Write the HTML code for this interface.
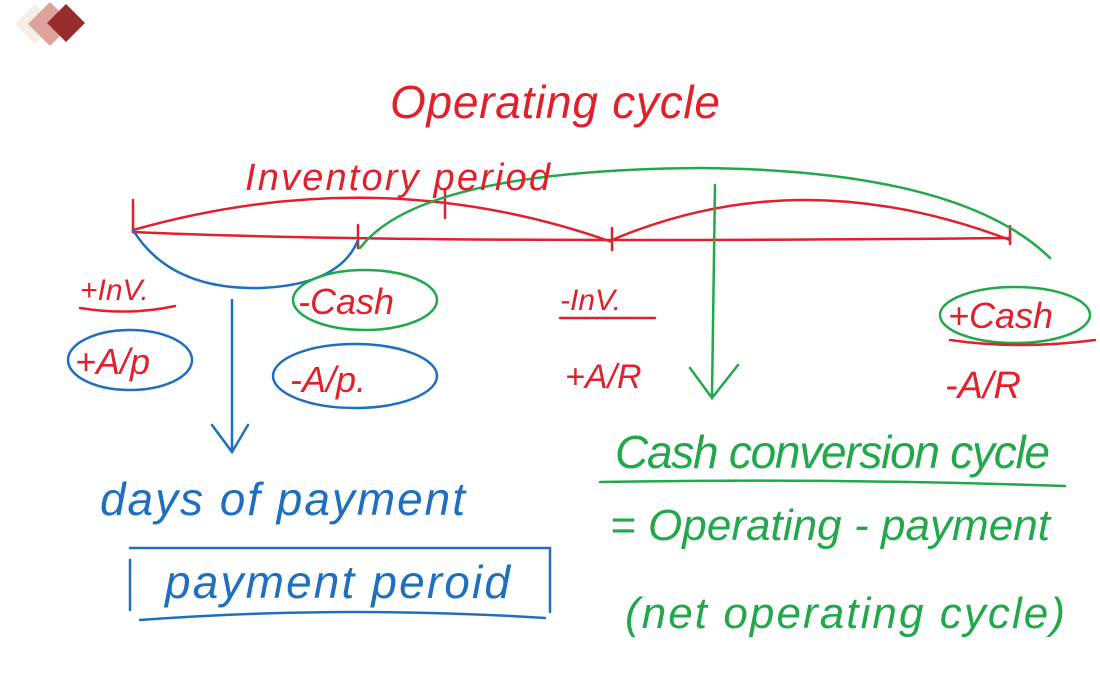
<!DOCTYPE html>
<html><head><meta charset="utf-8"><style>
html,body{margin:0;padding:0;background:#fff;width:1100px;height:696px;overflow:hidden}
svg text{font-family:"Liberation Sans",sans-serif;font-style:italic}
</style></head><body>
<svg width="1100" height="696" viewBox="0 0 1100 696" xmlns="http://www.w3.org/2000/svg">
<rect width="1100" height="696" fill="#fff"/>
<polygon points="35,4 55,24 35,44 15,24" fill="#f6ede4"/>
<polygon points="50,2 72,24 50,46 28,24" fill="#dba39c"/>
<polygon points="66,4 85,23 66,42 47,23" fill="#982c2c"/>

<g fill="none" stroke-linecap="round" stroke-width="2.5">
<path d="M133,232 Q400,244 1010,238" stroke="#e0202a"/>
<path d="M133,200 L133,232 M358,225 L358,248 M612,228 L612,250 M1010,226 L1010,244 M445,190 L445,218" stroke="#e0202a"/>
<path d="M133,230 Q380,160 612,242" stroke="#e0202a"/>
<path d="M612,240 Q800,160 1010,240" stroke="#e0202a"/>
<path d="M360,248 Q420,170 700,168 Q960,170 1050,258" stroke="#22a84a"/>
<path d="M133,230 Q170,290 260,288 Q340,285 358,240" stroke="#1f6fbf"/>
<path d="M232,300 L232,450 M212,425 L232,452 L248,425" stroke="#1f6fbf"/>
<path d="M715,185 L712,395 M690,368 L712,398 L738,365" stroke="#22a84a"/>
<ellipse cx="130" cy="360" rx="62" ry="30" stroke="#1f6fbf"/>
<ellipse cx="365" cy="300" rx="72" ry="30" stroke="#22a84a"/>
<ellipse cx="355" cy="376" rx="82" ry="32" stroke="#1f6fbf"/>
<ellipse cx="1015" cy="315" rx="75" ry="28" stroke="#22a84a"/>
<path d="M80,308 Q130,316 175,306" stroke="#e0202a"/>
<path d="M560,318 L655,318" stroke="#e0202a"/>
<path d="M950,340 Q1020,350 1095,340" stroke="#e0202a"/>
<path d="M600,482 Q830,478 1065,486" stroke="#22a84a"/>
<path d="M130,560 L130,610 M130,548 L550,548 L550,612 M140,620 Q340,605 545,618" stroke="#1f6fbf"/>
</g>

<text x="390" y="118" font-size="46" fill="#e0202a" textLength="330" lengthAdjust="spacing">Operating cycle</text>
<text x="245" y="190" font-size="38" fill="#e0202a" textLength="305" lengthAdjust="spacing">Inventory period</text>
<text x="80" y="300" font-size="30" fill="#e0202a">+InV.</text>
<text x="75" y="374" font-size="36" fill="#e0202a">+A/p</text>
<text x="298" y="314" font-size="36" fill="#e0202a">-Cash</text>
<text x="290" y="392" font-size="36" fill="#e0202a">-A/p.</text>
<text x="560" y="310" font-size="30" fill="#e0202a">-InV.</text>
<text x="565" y="388" font-size="34" fill="#e0202a">+A/R</text>
<text x="948" y="328" font-size="36" fill="#e0202a">+Cash</text>
<text x="945" y="398" font-size="38" fill="#e0202a">-A/R</text>
<text x="100" y="515" font-size="46" fill="#1f6fbf" textLength="365" lengthAdjust="spacing">days of payment</text>
<text x="165" y="598" font-size="46" fill="#1f6fbf" textLength="345" lengthAdjust="spacing">payment peroid</text>
<text x="615" y="468" font-size="46" fill="#22a84a" textLength="435" lengthAdjust="spacing">Cash conversion cycle</text>
<text x="610" y="540" font-size="44" fill="#22a84a" textLength="440" lengthAdjust="spacing">= Operating - payment</text>
<text x="625" y="628" font-size="44" fill="#22a84a" textLength="440" lengthAdjust="spacing">(net operating cycle)</text>
</svg>
</body></html>
